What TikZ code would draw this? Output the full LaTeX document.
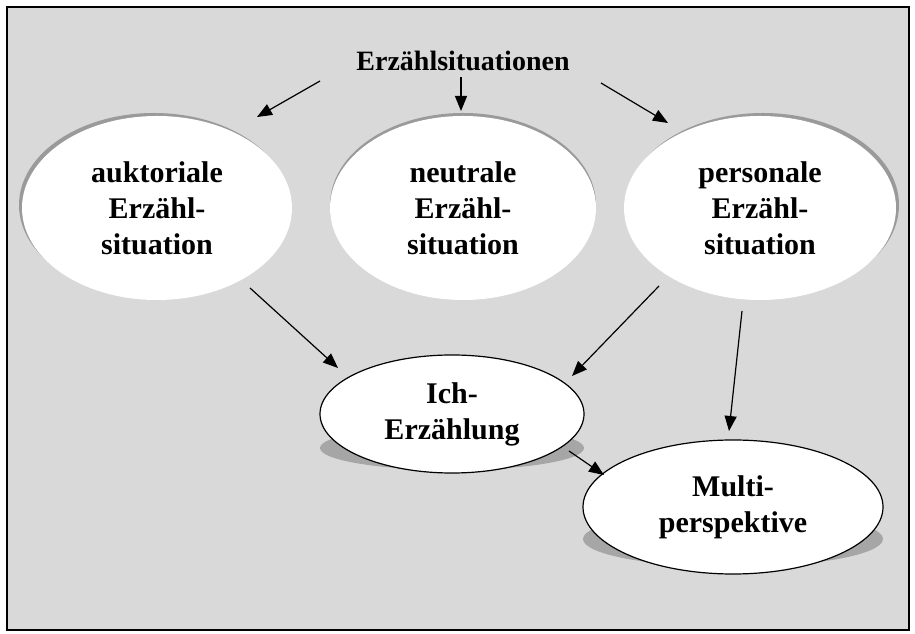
\documentclass[tikz,border=0pt]{standalone}
\usepackage{fontspec}
\setmainfont{Liberation Serif}
\usetikzlibrary{shapes.geometric,arrows.meta}
\definecolor{bg}{HTML}{D9D9D9}
\definecolor{shadec}{HTML}{A6A6A6}
\definecolor{rimc}{HTML}{9A9A9A}
\begin{document}
\begin{tikzpicture}[x=1pt,y=1pt,
 arr/.style={line width=1.2pt, -{Triangle[length=15pt,width=12pt]}},
 lbl/.style={font=\bfseries\fontsize{30}{36}\selectfont, align=center},
 topell/.style={ellipse, fill=white, inner sep=0pt, lbl},
 lowell/.style={ellipse, fill=white, draw=black, line width=1.2pt, inner sep=0pt, lbl}]
\useasboundingbox (0,0) rectangle (915,634);
\fill[white] (0,0) rectangle (915,634);
\draw[fill=bg, line width=2pt] (7,4) rectangle (909,627);

% title
\node[font=\bfseries\fontsize{28}{34}\selectfont] (title) at (463,573) {Erzählsituationen};

% rims of top ellipses
\fill[rimc] (154,429) ellipse [x radius=135, y radius=92];
\fill[rimc] (463,429) ellipse [x radius=133, y radius=92];
\fill[rimc] (763,429) ellipse [x radius=136, y radius=92];

\node[topell, minimum width=270pt, minimum height=184pt] (auk) at (157,426) {auktoriale\\Erzähl-\\situation};
\node[topell, minimum width=266pt, minimum height=184pt] (neu) at (463,426) {neutrale\\Erzähl-\\situation};
\node[topell, minimum width=272pt, minimum height=184pt] (per) at (760,426) {personale\\Erzähl-\\situation};

% shadows of lower ellipses
\fill[shadec] (452,186) ellipse [x radius=132, y radius=22];
\fill[shadec] (733,95) ellipse [x radius=150, y radius=28];

\node[lowell, minimum width=264pt, minimum height=118pt] (ich) at (452,220) {Ich-\\Erzählung};
\node[lowell, minimum width=300pt, minimum height=134pt] (multi) at (733,127) {Multi-\\perspektive};

% arrow end points
\coordinate (t1) at (320,553); \coordinate (h1) at (257,517);
\coordinate (t2) at (461,557); \coordinate (h2) at (461,523);
\coordinate (t3) at (601,551); \coordinate (h3) at (668,511);
\coordinate (t4) at (250,346); \coordinate (h4) at (338,266);
\coordinate (t5) at (659,348); \coordinate (h5) at (572,258);
\coordinate (t6) at (742,323); \coordinate (h6) at (729,203);
\coordinate (t7) at (569,183); \coordinate (h7) at (604,159);

\draw[arr] (t1) -- (h1);
\draw[arr] (t2) -- (h2);
\draw[arr] (t3) -- (h3);
\draw[arr] (t4) -- (h4);
\draw[arr] (t5) -- (h5);
\draw[arr] (t6) -- (h6);
\draw[arr] (t7) -- (h7);
\end{tikzpicture}
\end{document}
